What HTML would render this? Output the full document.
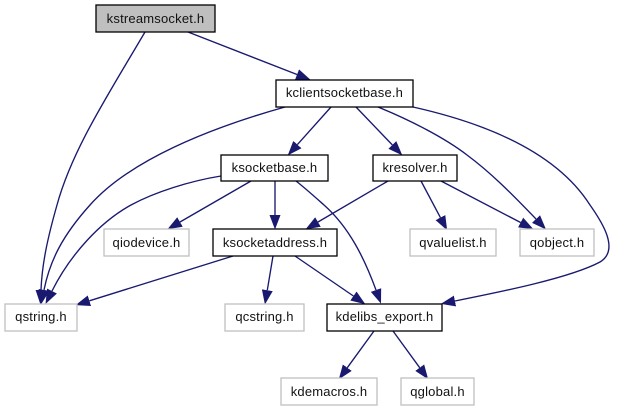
<!DOCTYPE html>
<html>
<head>
<meta charset="utf-8">
<style>
html,body{margin:0;padding:0;background:#fff;width:617px;height:411px;overflow:hidden}
svg{display:block}
text{font-family:"Liberation Sans",sans-serif;font-size:13px;letter-spacing:.2px;fill:#111;text-anchor:middle}
.e{fill:none;stroke:#191970;stroke-width:1.35;marker-end:url(#a)}
.b{fill:#fff;stroke:#000;stroke-width:1.3}
.g{fill:#fff;stroke:#bfbfbf;stroke-width:1.3}
</style>
</head>
<body>
<svg width="617" height="411" viewBox="0 0 617 411" xmlns="http://www.w3.org/2000/svg">
<defs>
<marker id="a" markerUnits="userSpaceOnUse" markerWidth="15" markerHeight="12" refX="0" refY="6" orient="auto">
<path d="M0,0.5 L14.5,6 L0,11.5 Z" fill="#191970"/>
</marker>
</defs>

<path class="e" d="M145,32 C108,95 72,150 57,205 C47,240 42,265 41,290"/>
<path class="e" d="M188,32 L297,74.5"/>
<path class="e" d="M285,107 C210,128 130,160 90,205 C63,235 50,260 44,290"/>
<path class="e" d="M221,176 C190,181 155,192 131,205 C100,222 70,255 52,291"/>
<path class="e" d="M331,107 L297.4,144.6"/>
<path class="e" d="M356,107 L392.3,144.9"/>
<path class="e" d="M378,107 C410,120 445,138 467,155 C490,172 510,192 536,219"/>
<path class="e" d="M413,107 C480,122 555,150 590,205 C602,222 620,250 600,262 C570,278 500,292 455,301"/>
<path class="e" d="M251,181 L180,222"/>
<path class="e" d="M275,181 L275,215"/>
<path class="e" d="M296,181 C305,188 315,197 324,205 C350,228 365,260 376,290"/>
<path class="e" d="M388,181 L318,222"/>
<path class="e" d="M421,181 L440.4,217.6"/>
<path class="e" d="M441,181 L520.6,222.5"/>
<path class="e" d="M233,256 L89.4,300.8"/>
<path class="e" d="M273,256 L267.3,290.2"/>
<path class="e" d="M295,256 L353.4,296"/>
<path class="e" d="M374,331 L347.3,367.7"/>
<path class="e" d="M393,331 L419.7,367.7"/>

<rect x="96" y="5" width="119" height="27" fill="#bfbfbf" stroke="#000" stroke-width="1.3"/>
<text x="155.5" y="23">kstreamsocket.h</text>
<rect class="b" x="276" y="80" width="137" height="27"/>
<text x="344.5" y="97">kclientsocketbase.h</text>
<rect class="b" x="221" y="155" width="107" height="26"/>
<text x="274.5" y="172">ksocketbase.h</text>
<rect class="b" x="373" y="155" width="84" height="26"/>
<text x="415" y="172">kresolver.h</text>
<rect class="g" x="104" y="229" width="85" height="27"/>
<text x="146.5" y="247">qiodevice.h</text>
<rect class="b" x="213" y="229" width="124" height="27"/>
<text x="275" y="247">ksocketaddress.h</text>
<rect class="g" x="410" y="229" width="86" height="27"/>
<text x="453" y="247">qvaluelist.h</text>
<rect class="g" x="520" y="229" width="74" height="27"/>
<text x="557" y="247">qobject.h</text>
<rect class="g" x="5" y="304" width="72" height="27"/>
<text x="41" y="321">qstring.h</text>
<rect class="g" x="225" y="304" width="79" height="27"/>
<text x="264.5" y="321">qcstring.h</text>
<rect class="b" x="327" y="304" width="115" height="27"/>
<text x="384.5" y="321">kdelibs_export.h</text>
<rect class="g" x="281" y="378" width="96" height="27"/>
<text x="329" y="396">kdemacros.h</text>
<rect class="g" x="401" y="378" width="73" height="27"/>
<text x="437.5" y="396">qglobal.h</text>
</svg>
</body>
</html>
